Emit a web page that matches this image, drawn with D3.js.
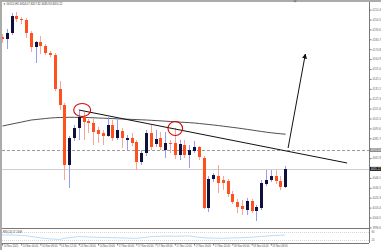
<!DOCTYPE html>
<html>
<head>
<meta charset="utf-8">
<script src="https://d3js.org/d3.v7.min.js"></script>
<style>
body { margin: 0; background: #fff; }
svg { display: block; }
</style>
</head>
<body>
<div id="chart"></div>
<script>
// GOLD H1 candles (one per hour)
var openP  = [4187,4185,4191,4208,4205,4204,4191,4177,4182,4178,4171,4169,4135,4119,4059,4086,4096,4107,4103,4101,
              4094,4091,4088,4099,4086,4093,4084,4086,4082,4062,4071,4091,4080,4086,4074,4081,4081,4069,4079,4069,
              4073,4077,4066,4016,4045,4048,4044,4043,4030,4022,4018,4014,4023,4013,4016,4040,4044,4048,4043,4037];
var highP  = [4190,4195,4211,4212,4207,4206,4193,4183,4188,4180,4173,4171,4143,4121,4088,4099,4113,4112,4105,4106,
              4097,4094,4107,4104,4106,4096,4089,4091,4084,4074,4094,4099,4094,4092,4092,4084,4096,4084,4084,4079,
              4083,4078,4068,4048,4051,4059,4048,4045,4033,4025,4024,4026,4025,4019,4044,4054,4054,4054,4048,4058];
var lowP   = [4181,4175,4189,4202,4200,4186,4172,4161,4170,4169,4167,4133,4114,4044,4036,4083,4084,4084,4091,4079,
              4081,4079,4087,4083,4084,4076,4074,4078,4054,4059,4068,4074,4077,4074,4066,4071,4065,4064,4066,4056,
              4071,4064,4015,4012,4042,4031,4034,4027,4020,4011,4009,4009,4011,4003,4014,4038,4042,4040,4034,4036];
var closeP = [4185,4191,4208,4205,4204,4191,4177,4182,4178,4171,4169,4135,4119,4059,4086,4096,4107,4102,4101,4092,
              4090,4088,4099,4086,4094,4086,4086,4081,4062,4071,4091,4077,4085,4077,4081,4080,4069,4080,4069,4074,
              4077,4067,4016,4045,4049,4041,4041,4030,4022,4017,4015,4023,4013,4017,4041,4044,4048,4043,4037,4055];

// moving average line
var maValues = [4098,4099,4100,4101,4102,4103,4104,4104.5,4105,4105.5,4106,4106.3,4106.5,4106.6,4106.7,4106.7,4106.6,4106.5,4106.4,4106.2,
                4106,4105.8,4105.6,4105.4,4105.2,4105,4104.8,4104.6,4104.4,4104.2,4104,4103.7,4103.4,4103.1,4102.8,4102.5,4102.2,4101.9,4101.6,4101.3,
                4101,4100.5,4100,4099.5,4099,4098.4,4097.8,4097.2,4096.6,4096,4095.3,4094.6,4093.9,4093.2,4092.5,4091.8,4091.2,4090.7,4090.2,4089.8];

// RSI(14) subwindow
var rsiValues = [57,57,57,56,55,52,46,42,37,33,30,27,26,34,38,42,45,45,43,42,
                 41,40,39,38,37,36,35,34,34,37,41,45,47,48,49,49,48,49,50,50,
                 45,41,38,36,35,34,34,35,36,37,38,40,41,44,47,49,52,54,55,57];
var rsiLevels = [80, 20];

// axis labels
var priceTicks = [4214.40,4204.50,4194.60,4184.70,4174.80,4164.90,4155.00,4145.10,4135.20,4125.30,4115.40,4105.50,
                  4095.60,4085.70,4075.80,4065.90,4056.00,4046.10,4036.20,4026.30,4016.40,4006.50,3996.60];
var timeBars   = [0,4,8,12,16,20,24,28,32,36,40,44,48,52,56];
var timeLabels = ['14 Nov 2025','14 Nov 04:00','14 Nov 08:00','14 Nov 12:00','14 Nov 16:00','14 Nov 20:00',
                  '17 Nov 00:00','17 Nov 04:00','17 Nov 08:00','17 Nov 12:00','17 Nov 16:00','17 Nov 20:00',
                  '18 Nov 00:00','18 Nov 04:00','18 Nov 08:00'];

// drawn objects (bar index, price)
var trendBars = [16, 71.9], trendPrices = [4114, 4061];
var circleBars = [16.7, 36.1], circlePrices = [4114, 4095.5];
var arrowBars = [59.6, 63.2], arrowPrices = [4076, 4170];
var hLinePrice = 4074.00;
var bidPrice = 4055.12;
var titleText = '\u25BC GOLD,H1  4054.07 4057.32 4035.93 4055.12';
var rsiText = 'RSI(14) 57.1949';

var svgWidth = 381, svgHeight = 250;
var right = 369, mainTop = 2, mainBottom = 228, subTop = 229, subBottom = 243;
var font = "'Liberation Sans', Arial, sans-serif";

var svg = d3.select('#chart').append('svg')
    .attr('width', svgWidth)
    .attr('height', svgHeight)
    .style('background', 'white');

var x = d3.scaleLinear().domain([0, 59]).range([2, 285.2]);
var y = d3.scaleLinear().domain([4222, 3996]).range([mainTop, mainBottom]);
var yr = d3.scaleLinear().domain([0, 100]).range([subBottom, subTop]);

svg.append('clipPath').attr('id', 'mainclip')
    .append('rect').attr('x', 2).attr('y', mainTop).attr('width', right - 2).attr('height', mainBottom - mainTop);

var main = svg.append('g').attr('clip-path', 'url(#mainclip)');

//window border (grey) left and top
svg.append('rect').attr('x', 0).attr('y', 0).attr('width', 2).attr('height', svgHeight).attr('fill', '#ababab');
svg.append('rect').attr('x', 0).attr('y', 0).attr('width', svgWidth).attr('height', 2).attr('fill', '#ababab');

//shift marker at top
svg.append('path').attr('d', 'M293,0.5 L297,0.5 L295,2.5 Z').attr('fill', '#777');

//bid line and horizontal dashed line
main.append('line')
    .attr('x1', 2).attr('x2', right)
    .attr('y1', Math.round(y(bidPrice)) + 0.5).attr('y2', Math.round(y(bidPrice)) + 0.5)
    .attr('stroke', '#cfcfcf').attr('stroke-width', 1);
main.append('line')
    .attr('x1', 2).attr('x2', right)
    .attr('y1', Math.round(y(hLinePrice)) + 0.5).attr('y2', Math.round(y(hLinePrice)) + 0.5)
    .attr('stroke', '#9a9a9a').attr('stroke-width', 1).attr('stroke-dasharray', '3,2');

//moving average
main.append('path')
    .datum(maValues)
    .attr('d', d3.line().x(function(d, i) { return x(i) + 0.5; }).y(function(d) { return y(d); }))
    .attr('fill', 'none').attr('stroke', '#222').attr('stroke-width', 0.8);

//candles
var idx = d3.range(openP.length);
var candle = main.selectAll('g.candle').data(idx).enter().append('g');
candle.append('line')
    .attr('x1', function(i) { return Math.round(x(i)) + 0.5; })
    .attr('x2', function(i) { return Math.round(x(i)) + 0.5; })
    .attr('y1', function(i) { return y(highP[i]); })
    .attr('y2', function(i) { return y(lowP[i]); })
    .attr('stroke', function(i) { return closeP[i] >= openP[i] ? '#9a9af2' : '#f6a79c'; })
    .attr('stroke-width', 1);
candle.append('rect')
    .attr('x', function(i) { return Math.round(x(i)) - 1; })
    .attr('width', 3)
    .attr('y', function(i) { return y(Math.max(openP[i], closeP[i])); })
    .attr('height', function(i) { return Math.max(1, y(Math.min(openP[i], closeP[i])) - y(Math.max(openP[i], closeP[i]))); })
    .attr('fill', function(i) { return closeP[i] >= openP[i] ? '#10103c' : '#ff5020'; });

//trend line
main.append('line')
    .attr('x1', x(trendBars[0])).attr('y1', y(trendPrices[0]))
    .attr('x2', x(trendBars[1])).attr('y2', y(trendPrices[1]))
    .attr('stroke', '#111').attr('stroke-width', 1);

//red circles
main.selectAll('ellipse.mark').data(circleBars).enter().append('ellipse')
    .attr('cx', function(d) { return x(d); })
    .attr('cy', function(d, i) { return y(circlePrices[i]); })
    .attr('rx', function(d, i) { return i == 0 ? 8.5 : 7.3; })
    .attr('ry', function(d, i) { return i == 0 ? 6.5 : 7; })
    .attr('fill', 'none').attr('stroke', '#e00000').attr('stroke-width', 1.1);

//arrow
svg.append('defs').append('marker')
    .attr('id', 'head').attr('viewBox', '0 0 10 10')
    .attr('refX', 9).attr('refY', 5)
    .attr('markerWidth', 5).attr('markerHeight', 5)
    .attr('orient', 'auto')
    .append('path').attr('d', 'M0,0 L10,5 L0,10 Z').attr('fill', '#111');
main.append('line')
    .attr('x1', x(arrowBars[0])).attr('y1', y(arrowPrices[0]))
    .attr('x2', x(arrowBars[1])).attr('y2', y(arrowPrices[1]))
    .attr('stroke', '#111').attr('stroke-width', 1)
    .attr('marker-end', 'url(#head)');

//title
svg.append('text')
    .text(titleText)
    .attr('x', 3).attr('y', 5.2)
    .attr('fill', '#333').attr('font-size', '2.8px').attr('font-family', font);

//frames
svg.append('line').attr('x1', right + 0.5).attr('x2', right + 0.5).attr('y1', 2).attr('y2', subBottom)
    .attr('stroke', '#777').attr('stroke-width', 1);
svg.append('line').attr('x1', 2).attr('x2', right).attr('y1', mainBottom + 0.5).attr('y2', mainBottom + 0.5)
    .attr('stroke', '#777').attr('stroke-width', 1);
svg.append('line').attr('x1', 2).attr('x2', right).attr('y1', subBottom + 0.5).attr('y2', subBottom + 0.5)
    .attr('stroke', '#777').attr('stroke-width', 1);

//price axis
var shown = priceTicks.filter(function(p) {
    return Math.abs(y(p) - y(bidPrice)) > 3 && Math.abs(y(p) - y(hLinePrice)) > 3;
});
var yAxis = svg.append('g')
    .attr('transform', 'translate(' + (right + 0.5) + ',0)')
    .call(d3.axisRight(y).tickValues(shown).tickSize(2).tickPadding(1).tickFormat(d3.format('.2f')));
yAxis.select('.domain').remove();
yAxis.selectAll('line').attr('stroke', '#777');
yAxis.selectAll('text').attr('fill', '#666').attr('font-size', '2.7px').attr('font-family', font);

//price boxes
var boxes = [[hLinePrice, '#8c8c8c'], [bidPrice, '#111']];
boxes.forEach(function(b) {
    svg.append('rect')
        .attr('x', right + 1).attr('y', y(b[0]) - 2)
        .attr('width', 11).attr('height', 4)
        .attr('fill', b[1]);
    svg.append('text')
        .text(d3.format('.2f')(b[0]))
        .attr('x', right + 1.8).attr('y', y(b[0]) + 1)
        .attr('fill', 'white').attr('font-size', '2.7px').attr('font-family', font);
});

//RSI subwindow
rsiLevels.forEach(function(l) {
    svg.append('line')
        .attr('x1', 2).attr('x2', right)
        .attr('y1', Math.round(yr(l)) + 0.5).attr('y2', Math.round(yr(l)) + 0.5)
        .attr('stroke', '#bbb').attr('stroke-width', 0.6).attr('stroke-dasharray', '1,1');
    svg.append('text')
        .text(l)
        .attr('x', right + 2.5).attr('y', yr(l) + 1)
        .attr('fill', '#666').attr('font-size', '2.7px').attr('font-family', font);
});
svg.append('path')
    .datum(rsiValues)
    .attr('d', d3.line().curve(d3.curveMonotoneX).x(function(d, i) { return x(i); }).y(function(d) { return yr(d); }))
    .attr('fill', 'none').attr('stroke', '#a7d3f5').attr('stroke-width', 0.8);
svg.append('text')
    .text(rsiText)
    .attr('x', 3).attr('y', 232.5)
    .attr('fill', '#444').attr('font-size', '2.6px').attr('font-family', font);

//time axis
var xAxis = svg.append('g')
    .attr('transform', 'translate(0,' + (subBottom + 0.5) + ')')
    .call(d3.axisBottom(x).tickValues(timeBars).tickSize(2).tickFormat(function(d, i) { return timeLabels[i]; }));
xAxis.select('.domain').remove();
xAxis.selectAll('line').attr('stroke', '#777');
xAxis.selectAll('text')
    .attr('text-anchor', 'start').attr('dx', 1).attr('y', 1.5).attr('dy', '0.9em')
    .attr('fill', '#555').attr('font-size', '2.6px').attr('font-family', font);
</script>
</body>
</html>
